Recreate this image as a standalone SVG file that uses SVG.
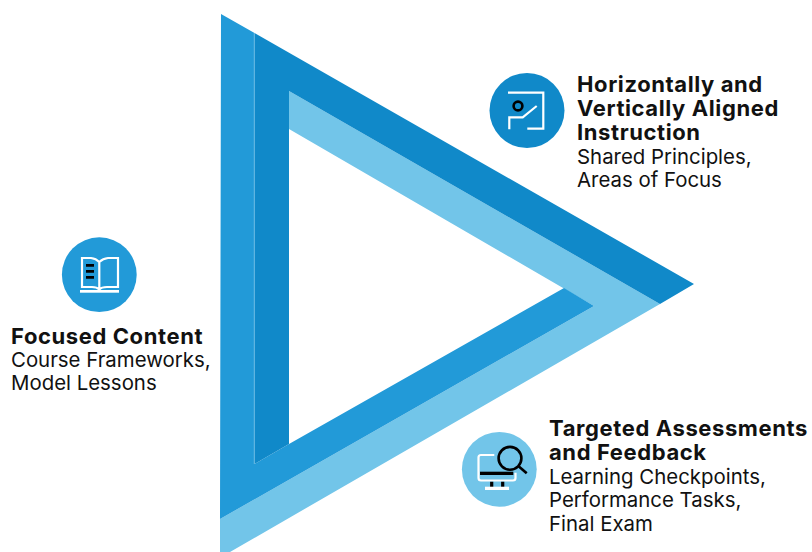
<svg xmlns="http://www.w3.org/2000/svg" width="812" height="552" viewBox="0 0 812 552">
<style>
.d{fill:#1089C9}.m{fill:#229AD8}.l{fill:#72C5E9}
text{font-family:Inter,"Liberation Sans",sans-serif;font-size:20.4px;fill:#111}
.h{font-weight:700;font-size:22px;letter-spacing:.6px}
.w{fill:none;stroke:#fff;stroke-width:2.2}
.b{fill:none;stroke:#000;stroke-width:2.6}
</style>
<rect width="812" height="552" fill="#fff"/>
<g id="triangle">
<polygon class="l" points="289,91 660,304 230,552 220,552 220,519 594,306 289,129"/>
<polygon class="m" points="221,14 254.5,33 254.5,464 289,444 564,288 594,306 220,519"/>
<polygon class="d" points="254.5,33 694,284 660,304 289,91 289,444 254.5,464"/>
<line x1="254.2" y1="33" x2="254.2" y2="464" stroke="#72C5E9" stroke-width="0.6"/>
</g>
<g id="connectors"></g>
<g id="node-aligned">
<circle class="d" cx="527" cy="110.5" r="37.5"/>
<path class="w" d="M508,92.7H543.3V128.7H527.3"/>
<path class="w" d="M509.3,129.3V117.3H522.7L536.7,106"/>
<circle class="b" cx="518" cy="106" r="4.4"/>
<text class="h" x="577" y="92">Horizontally and</text>
<text class="h" x="577" y="116">Vertically Aligned</text>
<text class="h" x="577" y="140">Instruction</text>
<text x="577" y="163.5">Shared Principles,</text>
<text x="577" y="187">Areas of Focus</text>
</g>
<g id="node-content">
<circle class="m" cx="99.3" cy="274.7" r="37.4"/>
<path class="w" d="M99.3,262Q96,258.5 91,258H82V287H92Q97,287 99.3,289.5Q101.5,287 107,287H118V258H108Q103,258.5 99.3,262V289.5"/>
<rect x="80" y="290" width="39" height="2.7" fill="#fff"/>
<path stroke="#000" stroke-width="2.7" d="M86,265.3h8M86,271.3h8M86,277.3h8"/>
<text class="h" x="11" y="343.5">Focused Content</text>
<text x="11" y="367">Course Frameworks,</text>
<text x="11" y="390">Model Lessons</text>
</g>
<g id="node-assessments">
<circle class="l" cx="499.3" cy="469.3" r="37.4"/>
<path class="w" d="M494.3,455H481Q478.5,455 478.5,457.5V478Q478.5,480.5 481,480.5H513Q515.5,480.5 515.5,478V472.7"/>
<rect x="480" y="471.7" width="33.3" height="3.3" fill="#000"/>
<path stroke="#000" stroke-width="3.2" d="M491.7,481.7V487M502.7,481.7V487"/>
<rect x="485" y="486.7" width="24" height="3.3" fill="#fff"/>
<circle class="b" cx="510" cy="458.3" r="11.4"/>
<path class="b" d="M518.3,466L526.7,473.3"/>
<text class="h" x="549" y="436">Targeted Assessments</text>
<text class="h" x="549" y="460">and Feedback</text>
<text x="549" y="484">Learning Checkpoints,</text>
<text x="549" y="507">Performance Tasks,</text>
<text x="549" y="531">Final Exam</text>
</g>
</svg>
